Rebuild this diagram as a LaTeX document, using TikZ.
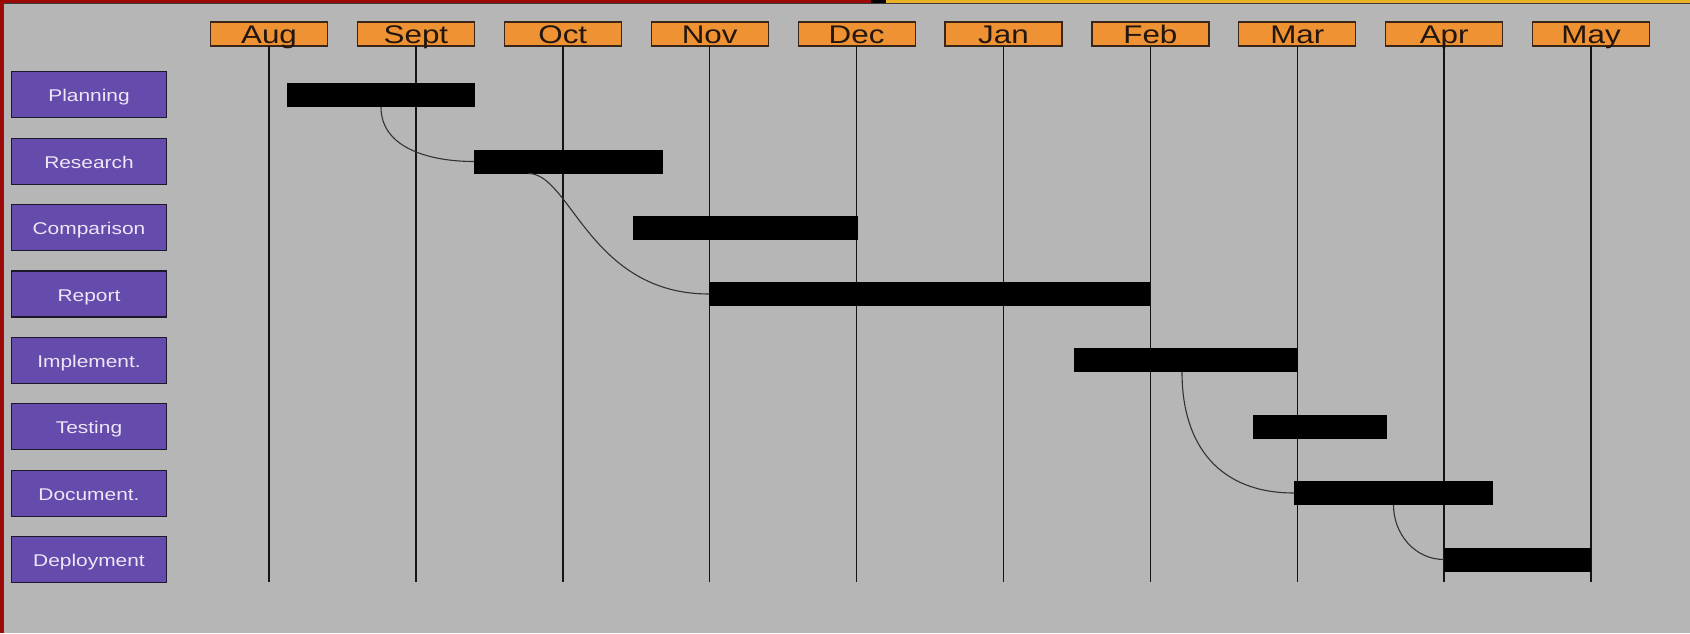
\documentclass[tikz,border=0pt]{standalone}
\usepackage{fontspec}
\setmainfont{Liberation Sans}
\usepackage{graphicx}

\definecolor{bg}{HTML}{B6B6B6}
\definecolor{framered}{HTML}{9A0808}
\definecolor{frameyellow}{HTML}{EAB126}
\definecolor{frameedge}{HTML}{3A3A3A}
\definecolor{monthfill}{HTML}{EE9234}
\definecolor{monthedge}{HTML}{3A2618}
\definecolor{monthtext}{HTML}{22160E}
\definecolor{taskfill}{HTML}{644BAC}
\definecolor{taskedge}{HTML}{1C1A2A}
\definecolor{tasktext}{HTML}{ECE6F6}
\definecolor{linkgray}{HTML}{333333}

\newcommand{\wide}[1]{\scalebox{1.23}[1]{#1}}

\begin{document}
\begin{tikzpicture}[
  x=1pt, y=-1pt,
  month/.style={draw=monthedge, line width=1.2pt, fill=monthfill,
    rectangle, inner sep=0pt, outer sep=0pt,
    minimum width=117pt, minimum height=24pt,
    text height=18.6pt, text depth=0pt, text=monthtext,
    font=\fontsize{25.5}{30}\selectfont},
  task/.style={draw=taskedge, line width=1.3pt, fill=taskfill,
    rectangle, inner sep=0pt, outer sep=0pt,
    minimum width=155pt, minimum height=46pt,
    text height=14pt, text depth=0pt, text=tasktext,
    font=\fontsize{17}{20}\selectfont},
  grid/.style={draw=black!92, line width=1.5pt},
  ganttbar/.style={fill=black, rectangle, inner sep=0pt, outer sep=0pt,
    minimum height=24pt},
  link/.style={draw=linkgray, line width=1.1pt}
]
\useasboundingbox (0,0) rectangle (1690,633);

% background and frame
\fill[bg] (0,0) rectangle (1690,633);
\fill[framered] (0,0) rectangle (3.4,633);
\fill[framered] (0,0) rectangle (871,2.8);
\fill[black] (871,0) rectangle (886,2.8);
\fill[frameyellow] (886,0) rectangle (1690,2.8);
\draw[frameedge, line width=0.9pt] (3.9,633) -- (3.9,3.4) -- (1690,3.4);

% month headers and their grid lines
\foreach \m [count=\i from 0] in {Aug,Sept,Oct,Nov,Dec,Jan,Feb,Mar,Apr,May}
  \node[month] (m\i) at ({269+146.9*\i},34) {\wide{\m}};
\foreach \i in {0,...,9}
  \draw[grid] (m\i.south) -- ++(0,536);

% task labels
\node[task] (t1) at (89,94.8)  {\wide{Planning}};
\node[task] (t2) at (89,161.2) {\wide{Research}};
\node[task] (t3) at (89,227.6) {\wide{Comparison}};
\node[task] (t4) at (89,294)   {\wide{Report}};
\node[task] (t5) at (89,360.4) {\wide{Implement.}};
\node[task] (t6) at (89,426.8) {\wide{Testing}};
\node[task] (t7) at (89,493.2) {\wide{Document.}};
\node[task] (t8) at (89,559.6) {\wide{Deployment}};

% schedule bars
\node[ganttbar, minimum width=188pt] (b1) at (381,95)     {};
\node[ganttbar, minimum width=189pt] (b2) at (568.5,161.5) {};
\node[ganttbar, minimum width=225pt] (b3) at (745.5,227.5) {};
\node[ganttbar, minimum width=441pt] (b4) at (929.5,294)   {};
\node[ganttbar, minimum width=224pt] (b5) at (1186,360)    {};
\node[ganttbar, minimum width=134pt] (b6) at (1320,426.5)  {};
\node[ganttbar, minimum width=199pt] (b7) at (1393.5,493)  {};
\node[ganttbar, minimum width=147pt] (b8) at (1517.5,559.5) {};

% dependencies
\draw[link] (b1.south) to[out=-90, in=180] (b2.west);
\draw[link] ([xshift=-40pt]b2.south) .. controls +(42,0) and +(-119,0) .. (b4.west);
\draw[link] ([xshift=-4pt]b5.south) to[out=-90, in=180, looseness=1.15] (b7.west);
\draw[link] (b7.south) to[out=-90, in=180] (b8.west);
\end{tikzpicture}
\end{document}
